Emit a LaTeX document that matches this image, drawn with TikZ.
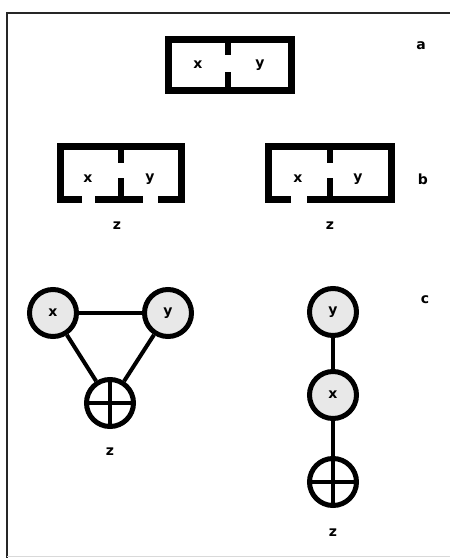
\documentclass[tikz,border=0pt]{standalone}
\usepackage{fontspec}
\setmainfont{DejaVu Sans}
\begin{document}
\begin{tikzpicture}[x=1pt,y=-1pt,
  wall/.style={line width=7pt,line join=miter,line cap=butt},
  divider/.style={line width=5.5pt,line cap=butt},
  lbl/.style={font=\bfseries\fontsize{14}{14}\selectfont,inner sep=0pt},
  var/.style={circle,draw,line width=5pt,fill=black!9,minimum size=47pt,inner sep=0pt,
    font=\bfseries\fontsize{14}{14}\selectfont},
  sum/.style={circle,draw,line width=5pt,fill=white,minimum size=47pt,inner sep=0pt},
  cross/.style={line width=3.5pt},
  edge/.style={line width=4pt}]
  \useasboundingbox (0,0) rectangle (450,558);
  % outer frame
  \draw[line width=2.2pt,black!85] (7,560) -- (7,13) -- (455,13);
  \draw[line width=1pt,black!15] (7,556) -- (455,556);

  % --- row a: closed two-cell box
  \draw[wall] (168.5,39.5) rectangle (291.5,90.5);
  \draw[divider] (228,39.5) -- (228,55);
  \draw[divider] (228,72) -- (228,90.5);
  \node[lbl] (ax) at (198,65) {x};
  \node[lbl] (ay) at (260,65) {y};
  \node[lbl] (la) at (421,46) {a};

  % --- row b, left: box open below with two gaps
  \draw[wall] (82,199.5) -- (60.5,199.5) -- (60.5,146.5) -- (181.5,146.5) -- (181.5,199.5) -- (158,199.5);
  \draw[wall] (95,199.5) -- (143,199.5);
  \draw[divider] (121,146.5) -- (121,163);
  \draw[divider] (121,178) -- (121,199.5);
  \node[lbl] (b1x) at (88,179) {x};
  \node[lbl] (b1y) at (150,179) {y};
  \node[lbl] (b1z) at (117,226) {z};

  % --- row b, right: box open below with one gap
  \draw[wall] (291,199.5) -- (268.5,199.5) -- (268.5,146.5) -- (391.5,146.5) -- (391.5,199.5) -- (307,199.5);
  \draw[divider] (330,146.5) -- (330,163);
  \draw[divider] (330,178) -- (330,199.5);
  \node[lbl] (b2x) at (298,179) {x};
  \node[lbl] (b2y) at (358,179) {y};
  \node[lbl] (b2z) at (330,226) {z};
  \node[lbl] (lb) at (423,179) {b};

  % --- row c, left: triangle graph
  \node[var] (cx) at (53,313) {x};
  \node[var] (cy) at (168,313) {y};
  \node[sum] (cz) at (110,403) {};
  \draw[cross] (cz.north) -- (cz.south) (cz.west) -- (cz.east);
  \draw[edge] (cx) -- (cy);
  \draw[edge] (cx) -- (cz);
  \draw[edge] (cy) -- (cz);
  \node[lbl] (czl) at (110,452) {z};

  % --- row c, right: chain graph
  \node[var] (dy) at (333,312) {y};
  \node[var] (dx) at (333,395) {x};
  \node[sum] (dz) at (333,482) {};
  \draw[cross] (dz.north) -- (dz.south) (dz.west) -- (dz.east);
  \draw[edge] (dy) -- (dx);
  \draw[edge] (dx) -- (dz);
  \node[lbl] (dzl) at (333,533) {z};
  \node[lbl] (lc) at (425,300) {c};
\end{tikzpicture}
\end{document}
